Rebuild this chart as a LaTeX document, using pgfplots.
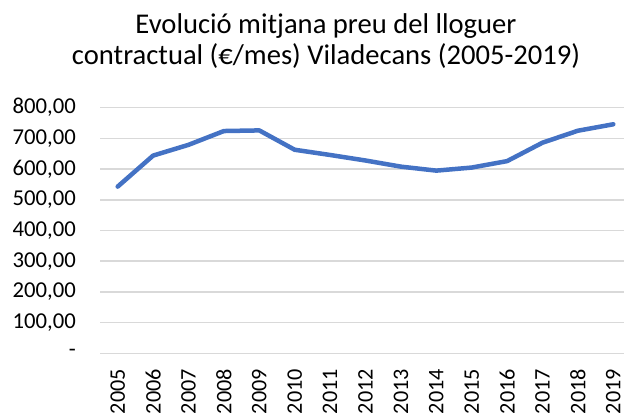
\documentclass[border=0pt]{standalone}
\usepackage{pgfplots}
\pgfplotsset{compat=1.18}
\usepackage{fontspec}
\setmainfont{Carlito}
\definecolor{lineblue}{HTML}{4472C4}
\definecolor{gridgray}{HTML}{D9D9D9}
\begin{document}
\begin{tikzpicture}
\begin{axis}[
  at={(100bp,62.7bp)}, anchor=south west,
  scale only axis, width=531bp, height=245.6bp,
  xmin=2004.5, xmax=2019.5, ymin=0, ymax=800,
  xtick={2005,2006,2007,2008,2009,2010,2011,2012,2013,2014,2015,2016,2017,2018,2019},
  xticklabels={2005,2006,2007,2008,2009,2010,2011,2012,2013,2014,2015,2016,2017,2018,2019},
  ytick={0,100,200,300,400,500,600,700,800},
  yticklabels={{-},{100,00},{200,00},{300,00},{400,00},{500,00},{600,00},{700,00},{800,00}},
  ymajorgrids, grid style={gridgray, line width=1.5bp},
  major tick length=0pt,
  axis line style={draw=none},
  yticklabel style={anchor=east, inner sep=0pt, xshift=-24bp, font=\fontsize{22.7bp}{27bp}\selectfont},
  xticklabel style={rotate=90, anchor=east, inner sep=0pt, xshift=-15.7bp, font=\fontsize{22.2bp}{27bp}\selectfont},
  clip=false,
]
\addplot[lineblue, line width=4.5bp, line cap=round, line join=round] coordinates {
 (2005,543) (2006,644) (2007,679) (2008,724) (2009,726) (2010,663) (2011,646)
 (2012,628) (2013,608) (2014,595) (2015,605) (2016,626) (2017,686) (2018,725) (2019,746)
};
\end{axis}
\node[anchor=base, inner sep=0pt, font=\fontsize{28.6bp}{33bp}\selectfont] at (326bp,382.7bp) {Evolució mitjana preu del lloguer};
\node[anchor=base, inner sep=0pt, font=\fontsize{28.6bp}{33bp}\selectfont] at (326bp,351bp) {contractual (€/mes) Viladecans (2005-2019)};
\pgfresetboundingbox
\path[use as bounding box] (0,0) rectangle (624bp,416bp);
\end{tikzpicture}
\end{document}
